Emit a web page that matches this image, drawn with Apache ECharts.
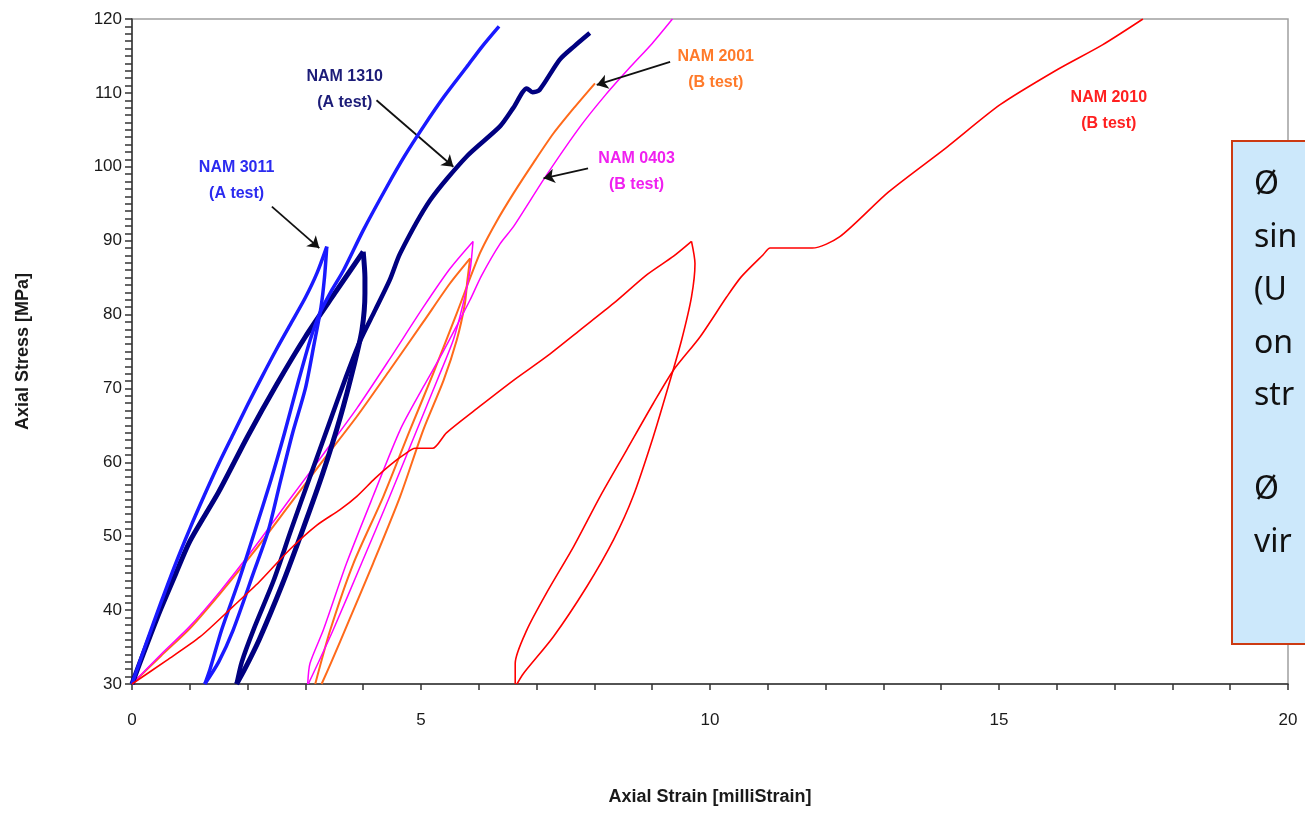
<!DOCTYPE html>
<html>
<head>
<meta charset="utf-8">
<script src="https://cdn.jsdelivr.net/npm/echarts@6/dist/echarts.min.js"></script>
<style>
html,body{margin:0;padding:0;background:#fff;}
#chart{width:1305px;height:815px;}
</style>
</head>
<body>
<div id="chart"></div>
<script>
// ---------- DATA (strain [milliStrain], stress [MPa]) ----------
const xTicks = [0, 5, 10, 15, 20];
const yTicks = [30, 40, 50, 60, 70, 80, 90, 100, 110, 120];

// NAM 3011 (A test)
const nam3011Load = [[0,30],[0.25,35.6],[0.5,41],[0.75,46.2],[1.0,51],[1.25,55.5],[1.5,59.8],[1.75,63.8],[2.0,67.8],[2.25,71.6],[2.5,75.3],[2.75,78.8],[3.0,82.3],[3.2,85.6],[3.37,89.2]];
const nam3011Unload = [[3.37,89.2],[3.33,85],[3.27,81],[3.15,76],[3.0,70],[2.78,64],[2.57,57.5],[2.36,50.8],[2.1,45],[1.75,37.3],[1.5,33],[1.26,30]];
const nam3011Reload = [[1.26,30],[1.35,32],[1.55,37.3],[1.85,44],[2.13,50.8],[2.4,57.5],[2.64,64],[2.88,71],[3.08,76.5],[3.25,80.2],[3.45,83.2],[3.66,86.0],[4.0,91.4],[4.41,97.3],[4.72,101.5],[5.04,105.4],[5.4,109.5],[5.79,113.5],[6.05,116.2],[6.35,119.0]];

// NAM 1310 (A test)
const nam1310Load = [[0,30],[0.25,35.2],[0.5,40.2],[0.75,44.8],[1.0,49.3],[1.5,56],[2.0,63.5],[2.5,70.5],[3.0,77],[3.5,82.8],[4.0,88.5]];
const nam1310Unload = [[4.0,88.5],[4.03,85],[4.03,82.9],[3.98,78],[3.85,73.4],[3.6,66],[3.3,58.5],[2.95,50.8],[2.6,43.5],[2.2,36],[1.95,32],[1.81,30]];
const nam1310Reload = [[1.81,30],[1.9,33],[2.1,37.3],[2.45,44],[2.75,50.8],[3.1,58.5],[3.4,65],[3.7,71.5],[3.95,76.5],[4.2,80.5],[4.46,84.7],[4.64,88.3],[5.16,95.5],[5.79,101.4],[6.37,105.5],[6.6,108],[6.83,110.6],[6.93,110.1],[7.05,110.4],[7.4,114.5],[7.65,116.3],[7.92,118.1]];

// NAM 0403 (B test)
const nam0403Load = [[0,30],[0.5,34],[1.0,37.8],[1.52,42.5],[2.1,48.3],[2.73,55],[3.3,61],[3.89,67.3],[4.46,74],[5.04,81],[5.5,86.2],[5.9,89.9]];
const nam0403Unload = [[5.9,89.9],[5.85,86.0],[5.73,81.5],[5.56,76.6],[5.28,71.1],[4.93,64.4],[4.46,55.4],[3.97,46.3],[3.48,37.3],[3.2,32.5],[3.05,30]];
const nam0403Reload = [[3.04,30],[3.08,32.8],[3.31,37.3],[3.71,46.3],[4.17,55.4],[4.64,64.4],[5.04,70.2],[5.35,74.5],[5.62,78.5],[5.85,82.0],[6.05,85.3],[6.37,89.6],[6.6,91.9],[7.14,98.5],[7.75,105.4],[8.2,109.8],[8.62,113.5],[9.0,116.7],[9.35,120]];

// NAM 2001 (B test)
const nam2001Load = [[0,30],[0.5,33.8],[1.0,37.5],[1.52,42.2],[2.1,47.8],[2.73,54.3],[3.3,60.2],[3.89,66.2],[4.46,72.5],[5.04,79],[5.5,84.2],[5.85,87.6]];
const nam2001Unload = [[5.85,87.6],[5.8,84.5],[5.76,81.5],[5.62,76.6],[5.39,71.1],[5.04,64.4],[4.64,55.4],[4.17,46.3],[3.75,38.5],[3.45,33],[3.28,30]];
const nam2001Reload = [[3.17,30],[3.43,37.3],[3.83,46.3],[4.35,55.4],[4.81,64.4],[5.21,72.0],[5.62,80.2],[6.02,88.3],[6.3,92.5],[6.6,96.4],[6.95,100.6],[7.29,104.5],[7.65,108],[8.01,111.3]];

// NAM 2010 (B test)
const nam2010Load = [[0,30],[0.6,33.2],[1.18,36.4],[1.75,40.5],[2.2,43.8],[2.73,48.2],[3.2,51.5],[3.6,53.6],[3.89,55.4],[4.2,57.8],[4.46,59.6],[4.7,61.0],[4.9,61.9],[5.2,61.9],[5.44,64.0],[6.02,67.6],[6.6,71.1],[7.17,74.3],[7.75,77.9],[8.33,81.5],[8.91,85.4],[9.37,87.9],[9.68,89.9]];
const nam2010Unload = [[9.68,89.9],[9.74,86.9],[9.68,82.4],[9.51,76.6],[9.31,71.1],[9.02,63.5],[8.67,55.4],[8.33,49.5],[7.87,43.2],[7.29,36.4],[6.77,31.4],[6.66,30]];
const nam2010Reload = [[6.63,30],[6.63,32.8],[6.83,37.3],[7.17,42.3],[7.64,48.6],[8.1,55.4],[8.56,61.7],[9.02,68.0],[9.37,72.5],[9.83,77.0],[10.29,82.4],[10.54,85.1],[10.92,88.1],[11.04,89.0],[11.77,89.0],[12.24,90.5],[13.09,96.6],[14.09,102.6],[15.02,108.4],[16.02,113.2],[16.79,116.5],[17.49,120]];

// Annotation labels [strain, stress] and arrows [from, to]
const labelNames = ['NAM 3011\n(A test)', 'NAM 1310\n(A test)', 'NAM 2001\n(B test)', 'NAM 0403\n(B test)', 'NAM 2010\n(B test)'];
const labelCoords = [[1.81,98.1],[3.68,110.5],[10.1,113.2],[8.73,99.4],[16.9,107.6]];
const arrows = [
  [[2.42,94.6],[3.24,89.0]],
  [[4.23,109.0],[5.56,100.0]],
  [[9.31,114.2],[8.04,111.07]],
  [[7.89,99.8],[7.12,98.44]]
];

// ---------- STYLE ----------
const FONT = 'Liberation Sans, Arial, sans-serif';
const colors = {
  nam3011: '#1a1aff',
  nam1310: '#000080',
  nam0403: '#ff00ff',
  nam2001: '#ff6a1a',
  nam2010: '#ff0000'
};
const labelColors = ['#2b2bf0', '#1c1c78', '#ff7a2a', '#f020f0', '#ff2020'];

function lineSeries(name, data, color, width, z, extra) {
  return Object.assign({
    type: 'line', name: name, data: data, showSymbol: false, symbol: 'none',
    smooth: 0.25, animation: false, silent: true, z: z,
    lineStyle: { color: color, width: width, join: 'round' }
  }, extra || {});
}

const arrowMark = {
  silent: true, animation: false,
  symbol: ['none', 'arrow'], symbolSize: 11,
  label: { show: false },
  emphasis: { disabled: true },
  lineStyle: { color: '#111', width: 1.8, type: 'solid' },
  itemStyle: { color: '#111' },
  data: arrows.map(a => [{ coord: a[0] }, { coord: a[1] }])
};

const labelMark = {
  silent: true, animation: false,
  symbol: 'circle', symbolSize: 1,
  itemStyle: { color: 'rgba(0,0,0,0)' },
  data: labelCoords.map((c, i) => ({
    coord: c,
    label: {
      show: true, position: 'inside', formatter: labelNames[i],
      color: labelColors[i], fontFamily: FONT, fontWeight: 'bold',
      fontSize: 16, lineHeight: 26, align: 'center', verticalAlign: 'middle'
    }
  }))
};

const series = [
  lineSeries('NAM 2001 load', nam2001Load, colors.nam2001, 2, 2),
  lineSeries('NAM 2001 unload', nam2001Unload, colors.nam2001, 2, 2),
  lineSeries('NAM 2001 reload', nam2001Reload, colors.nam2001, 2, 2),
  lineSeries('NAM 0403 load', nam0403Load, colors.nam0403, 1.5, 3),
  lineSeries('NAM 0403 unload', nam0403Unload, colors.nam0403, 1.5, 3),
  lineSeries('NAM 0403 reload', nam0403Reload, colors.nam0403, 1.5, 3),
  lineSeries('NAM 1310 load', nam1310Load, colors.nam1310, 5, 4),
  lineSeries('NAM 1310 unload', nam1310Unload, colors.nam1310, 5, 4),
  lineSeries('NAM 1310 reload', nam1310Reload, colors.nam1310, 4.5, 4),
  lineSeries('NAM 3011 load', nam3011Load, colors.nam3011, 3.5, 5),
  lineSeries('NAM 3011 unload', nam3011Unload, colors.nam3011, 3.5, 5),
  lineSeries('NAM 3011 reload', nam3011Reload, colors.nam3011, 3.5, 5),
  lineSeries('NAM 2010 load', nam2010Load, colors.nam2010, 1.6, 6),
  lineSeries('NAM 2010 unload', nam2010Unload, colors.nam2010, 1.6, 6),
  lineSeries('NAM 2010 reload', nam2010Reload, colors.nam2010, 1.6, 6, { markLine: arrowMark, markPoint: labelMark })
];

// Text box lines (clipped at the right edge like the original)
const boxLines = [
  { t: 'Ø', y: 185 }, { t: 'sin', y: 238 }, { t: '(U', y: 291 },
  { t: 'on', y: 344 }, { t: 'str', y: 396 }, { t: 'Ø', y: 490 }, { t: 'vir', y: 543 }
];

const chart = echarts.init(document.getElementById('chart'), null, { renderer: 'canvas' });
chart.setOption({
  animation: false,
  backgroundColor: '#ffffff',
  grid: { left: 132, top: 19, right: 17, bottom: 131, show: true, borderColor: '#a0a0a0', borderWidth: 1.5, backgroundColor: 'transparent' },
  xAxis: {
    type: 'value', min: xTicks[0], max: xTicks[xTicks.length - 1], interval: 5,
    name: 'Axial Strain [milliStrain]', nameLocation: 'middle', nameGap: 104,
    nameTextStyle: { fontFamily: FONT, fontWeight: 'bold', fontSize: 18, color: '#1a1a1a' },
    axisLine: { show: true, onZero: false, lineStyle: { color: '#333', width: 1.5 } },
    axisTick: { show: true, inside: false, length: 6, lineStyle: { color: '#333', width: 1.5 } },
    minorTick: { show: true, splitNumber: 5, length: 6, lineStyle: { color: '#333', width: 1.5 } },
    axisLabel: { margin: 28, fontFamily: FONT, fontSize: 17, color: '#1a1a1a', formatter: v => String(v) },
    splitLine: { show: false }, minorSplitLine: { show: false }
  },
  yAxis: {
    type: 'value', min: yTicks[0], max: yTicks[yTicks.length - 1], interval: 10,
    name: 'Axial Stress [MPa]', nameLocation: 'middle', nameGap: 100, nameRotate: 90,
    nameTextStyle: { fontFamily: FONT, fontWeight: 'bold', fontSize: 18, color: '#1a1a1a' },
    axisLine: { show: true, onZero: false, lineStyle: { color: '#333', width: 1.5 } },
    axisTick: { show: true, inside: false, length: 7, lineStyle: { color: '#333', width: 1.5 } },
    minorTick: { show: true, splitNumber: 10, length: 7, lineStyle: { color: '#333', width: 1.5 } },
    axisLabel: { margin: 10, fontFamily: FONT, fontSize: 17, color: '#1a1a1a' },
    splitLine: { show: false }, minorSplitLine: { show: false }
  },
  series: series,
  graphic: [
    {
      type: 'group', z: 100,
      children: [
        { type: 'rect', shape: { x: 1232, y: 141, width: 120, height: 503 },
          style: { fill: '#cce8fb', stroke: '#cc3a12', lineWidth: 2 } }
      ].concat(boxLines.map(l => ({
        type: 'text', x: 1254, y: l.y,
        style: { text: l.t, fill: '#111', font: '32px "Noto Sans", "Open Sans", sans-serif', textVerticalAlign: 'middle', textAlign: 'left' }
      })))
    }
  ]
});
</script>
</body>
</html>
